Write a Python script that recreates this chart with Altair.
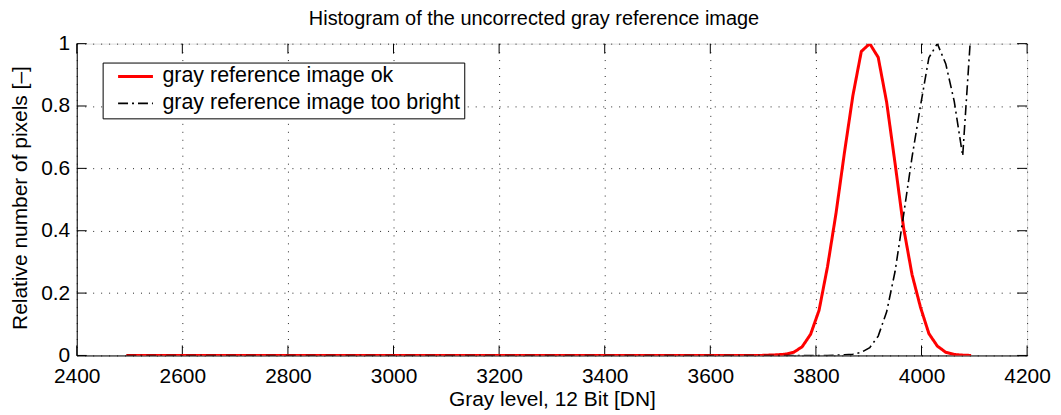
import altair as alt
import pandas as pd

# ---- data ----
series_names = ["gray reference image ok", "gray reference image too bright"]

# histogram bin centres (12-bit gray levels), 101 bins of width 16
gray_levels = list(range(2494, 4095, 16))

# values from 3694 to 4094 (the bins below 3694 are empty)
ok_tail = [0.000, 0.001, 0.002, 0.004, 0.010, 0.028, 0.068, 0.145, 0.285,
           0.455, 0.650, 0.833, 0.975, 1.000, 0.956, 0.812, 0.615, 0.410,
           0.260, 0.155, 0.070, 0.030, 0.010, 0.003, 0.001, 0.000]
bright_tail = [0.000, 0.000, 0.000, 0.000, 0.000, 0.000, 0.000, 0.000, 0.000,
               0.001, 0.002, 0.004, 0.010, 0.025, 0.062, 0.140, 0.270, 0.450,
               0.635, 0.800, 0.955, 1.000, 0.935, 0.815, 0.640, 1.050]
ok_values = [0.0] * 75 + ok_tail
bright_values = [0.0] * 75 + bright_tail

x_ticks = [2400, 2600, 2800, 3000, 3200, 3400, 3600, 3800, 4000, 4200]
y_ticks = [0, 0.2, 0.4, 0.6, 0.8, 1]

title_text = "Histogram of the uncorrected gray reference image"
x_title = "Gray level, 12 Bit [DN]"
y_title = "Relative number of pixels [\u2013]"

# ---- layout / style ----
FONT = "Liberation Sans"
PW, PH = 954, 313
TICK = 10
FS = 21

df = pd.DataFrame({
    "gray": gray_levels * 2,
    "rel": ok_values + bright_values,
    "series": [series_names[0]] * len(gray_levels) + [series_names[1]] * len(gray_levels),
})
xt_df = pd.DataFrame({"gray": x_ticks})
yt_df = pd.DataFrame({"rel": y_ticks})
title_df = pd.DataFrame({"t": [title_text]})

x_scale = alt.Scale(domain=[2400, 4200], nice=False, zero=False)
y_scale = alt.Scale(domain=[0, 1], nice=False, zero=False)

x_axis = alt.Axis(values=x_ticks, format="d", title=x_title, ticks=False, tickSize=0,
                  grid=True, gridDash=[1, 7], gridColor="#000000", gridOpacity=0.85,
                  labelFontSize=FS, labelFont=FONT, labelColor="black",
                  labelPadding=27, labelBaseline="alphabetic", labelFlush=False,
                  labelOverlap=False,
                  titleFontSize=FS, titleFont=FONT, titleFontWeight="normal",
                  titleColor="black", titleBaseline="alphabetic", titleY=50,
                  titleX=PW / 2, titleAlign="center",
                  domainColor="black", domainWidth=1)
y_axis = alt.Axis(values=y_ticks, format="~g", title=y_title, ticks=False, tickSize=0,
                  grid=True, gridDash=[1, 7], gridColor="#000000", gridOpacity=0.85,
                  labelFontSize=FS, labelFont=FONT, labelColor="black",
                  labelPadding=7, labelFlush=False, labelOverlap=False,
                  titleFontSize=FS, titleFont=FONT, titleFontWeight="normal",
                  titleColor="black", titleBaseline="alphabetic", titleAngle=270,
                  titleX=-50, titleY=PH / 2 - 2, titleAlign="center",
                  domainColor="black", domainWidth=1)


def xe():
    return alt.X("gray:Q", scale=x_scale, axis=x_axis)


def ye():
    return alt.Y("rel:Q", scale=y_scale, axis=y_axis)


legend = alt.Legend(orient="none", legendX=26, legendY=19, title=None,
                    direction="vertical", strokeColor="black", fillColor="white",
                    padding=4, symbolType="stroke", symbolSize=1225,
                    symbolOffset=10, labelOffset=8, clipHeight=20,
                    labelFontSize=21.5, labelFont=FONT, labelColor="black",
                    labelLimit=0, rowPadding=5)

color = alt.Color("series:N", scale=alt.Scale(domain=series_names,
                                              range=["#ff0000", "#000000"]),
                  legend=legend)
dash = alt.StrokeDash("series:N", scale=alt.Scale(domain=series_names,
                                                  range=[[1, 0], [10, 4, 2, 4]]),
                      legend=legend)
width_enc = alt.StrokeWidth("series:N", scale=alt.Scale(domain=series_names,
                                                        range=[3, 1.6]),
                            legend=legend)

base = alt.Chart(df)
red_line = base.transform_filter(alt.datum.series == series_names[0]).mark_line(
    clip=True).encode(x=xe(), y=ye(), color=color, strokeDash=dash, strokeWidth=width_enc)
black_line = base.transform_filter(alt.datum.series == series_names[1]).mark_line(
    clip=True).encode(x=xe(), y=ye(), color=color, strokeDash=dash, strokeWidth=width_enc)

tick_bottom = alt.Chart(xt_df).mark_rule(color="black", strokeWidth=1).encode(
    x=xe(), y=alt.value(PH), y2=alt.value(PH - TICK))
tick_top = alt.Chart(xt_df).mark_rule(color="black", strokeWidth=1).encode(
    x=xe(), y=alt.value(0), y2=alt.value(TICK))
tick_left = alt.Chart(yt_df).mark_rule(color="black", strokeWidth=1).encode(
    y=ye(), x=alt.value(0), x2=alt.value(TICK))
tick_right = alt.Chart(yt_df).mark_rule(color="black", strokeWidth=1).encode(
    y=ye(), x=alt.value(PW - TICK), x2=alt.value(PW))

title_mark = alt.Chart(title_df).mark_text(
    font=FONT, fontSize=20, color="black", align="center", baseline="alphabetic"
).encode(text="t:N", x=alt.value(459), y=alt.value(-18.5))

chart = alt.layer(
    tick_bottom, tick_top, tick_left, tick_right, red_line, black_line, title_mark
).properties(
    width=PW, height=PH,
    padding={"left": 69, "top": 35, "right": 26, "bottom": 56},
    autosize=alt.AutoSizeParams(type="none"),
).configure_view(
    stroke="black", strokeWidth=1
).configure(
    background="white"
)

chart.save("out.html", embed_options={"renderer": "svg", "actions": False})
